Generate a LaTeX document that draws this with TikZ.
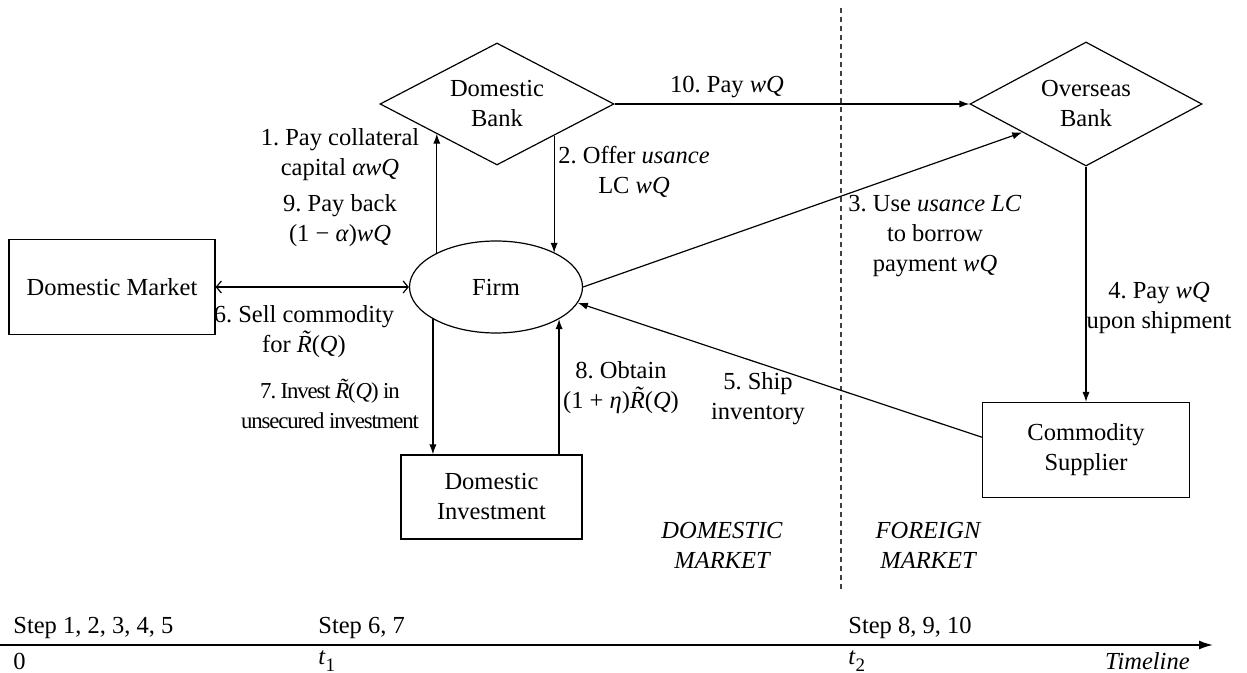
\documentclass[tikz,border=0pt]{standalone}
\usepackage{fontspec}
\setmainfont{Liberation Serif}
\usetikzlibrary{shapes.geometric,arrows.meta}
\frenchspacing
\newcommand{\mv}[1]{\textit{#1}}
\newcommand{\Rt}{\textit{R}\llap{\raisebox{0.2em}[0pt][0pt]{\textit{\char"02DC}}\hspace{0.04em}}}
\newcommand{\sub}[1]{\raisebox{-0.3em}{\fontsize{9.5}{9.5}\selectfont #1}}
\begin{document}
\begin{tikzpicture}[x=0.5pt,y=-0.5pt,
 every node/.style={font=\fontsize{12.25}{15}\selectfont},
 shp/.style={draw, line width=0.6pt, inner sep=0pt, align=center},
 dia/.style={shp, diamond, aspect=1.92},
 box/.style={shp, rectangle},
 lab/.style={inner sep=0pt, align=center},
 arr/.style={draw, line width=0.6pt, -{Latex[length=5pt,width=3.6pt]}},
 dbl/.style={draw, line width=0.6pt, {Straight Barb[length=2.5pt,width=6pt]}-{Straight Barb[length=2.5pt,width=6pt]}},
 sep/.style={draw=black!75, line width=0.7pt, dash pattern=on 2.5pt off 2pt},
 tline/.style={draw, line width=0.8pt, -{Latex[length=7pt,width=4.5pt]}},
]
\useasboundingbox (0,0) rectangle (1247,673);

% separator
\coordinate (dtop) at (841,8);
\coordinate (dbot) at (841,590);
\draw[sep] (dtop) -- (dbot);

% nodes
\node[dia, minimum width=117pt, minimum height=61pt] (dbank) at (497,104) {Domestic\\Bank};
\node[dia, minimum width=116pt, minimum height=62pt] (obank) at (1086,104) {Overseas\\Bank};
\node[shp, ellipse, minimum width=86.5pt, minimum height=46pt] (firm) at (496,287) {Firm};
\node[box, minimum width=103pt, minimum height=47.5pt] (dmkt) at (112,287) {Domestic Market};
\node[box, minimum width=90.5pt, minimum height=42pt] (dinv) at (491.5,497) {Domestic\\Investment};
\node[box, minimum width=103.5pt, minimum height=47.5pt] (csup) at (1086,450) {Commodity\\Supplier};

% connectors
\draw[arr] (firm.150) -- (firm.150 |- dbank.206);
\draw[arr] (dbank.331) -- (dbank.331 |- firm.30);
\draw[arr] (dbank.east) -- (obank.west);
\draw[arr] (firm.east) -- (obank.204);
\draw[arr] (obank.south) -- (csup.north);
\draw[arr] (csup.173) -- (firm.349);
\draw[dbl] (dmkt.east) -- (firm.west);
\draw[arr] (firm.207) -- (firm.207 |- dinv.north);
\draw[arr] (firm.333 |- dinv.north) -- (firm.333);

% labels
\node[lab] (l1) at (340,155) {1. Pay collateral\\capital \mv{αwQ}};
\node[lab] (l9) at (340,221) {9. Pay back\\(1 − \mv{α})\mv{wQ}};
\node[lab] (l2) at (634,172) {2. Offer \textit{usance}\\LC \mv{wQ}};
\node[lab] (l10) at (727,87) {10. Pay \mv{wQ}};
\node[lab] (l3) at (935,236) {3. Use \textit{usance LC}\\to borrow\\payment \mv{wQ}};
\node[lab] (l4) at (1159,308) {4. Pay \mv{wQ}\\upon shipment};
\node[lab] (l6) at (304,332) {6. Sell commodity\\for \Rt(\mv{Q})};
\node[lab, font=\fontsize{11.4}{15}\selectfont\addfontfeature{LetterSpace=-5}] (l7) at (330,406) {7. Invest \Rt(\mv{Q}) in\\unsecured investment};
\node[lab] (l8) at (621,388) {8. Obtain\\(1 + \mv{η})\Rt(\mv{Q})};
\node[lab] (l5) at (758,399) {5. Ship\\inventory};
\node[lab, font=\fontsize{12.25}{15}\selectfont\itshape] (dm) at (722,545) {DOMESTIC\\MARKET};
\node[lab, font=\fontsize{12.25}{15}\selectfont\itshape] (fm) at (928,545) {FOREIGN\\MARKET};

% timeline
\coordinate (t0) at (0,645);
\coordinate (tend) at (1213,645);
\draw[tline] (t0) -- (tend);
\node[lab, anchor=west] (s1) at (13,628) {Step 1, 2, 3, 4, 5};
\node[lab, anchor=west] (s2) at (318,628) {Step 6, 7};
\node[lab, anchor=west] (s3) at (848,628) {Step 8, 9, 10};
\node[lab, anchor=west] (z0) at (13,661) {0};
\node[lab, anchor=west] (z1) at (318,661) {\mv{t}\sub{1}};
\node[lab, anchor=west] (z2) at (848,661) {\mv{t}\sub{2}};
\node[lab, anchor=east] (tl) at (1190,661) {\mv{Timeline}};
\end{tikzpicture}
\end{document}
